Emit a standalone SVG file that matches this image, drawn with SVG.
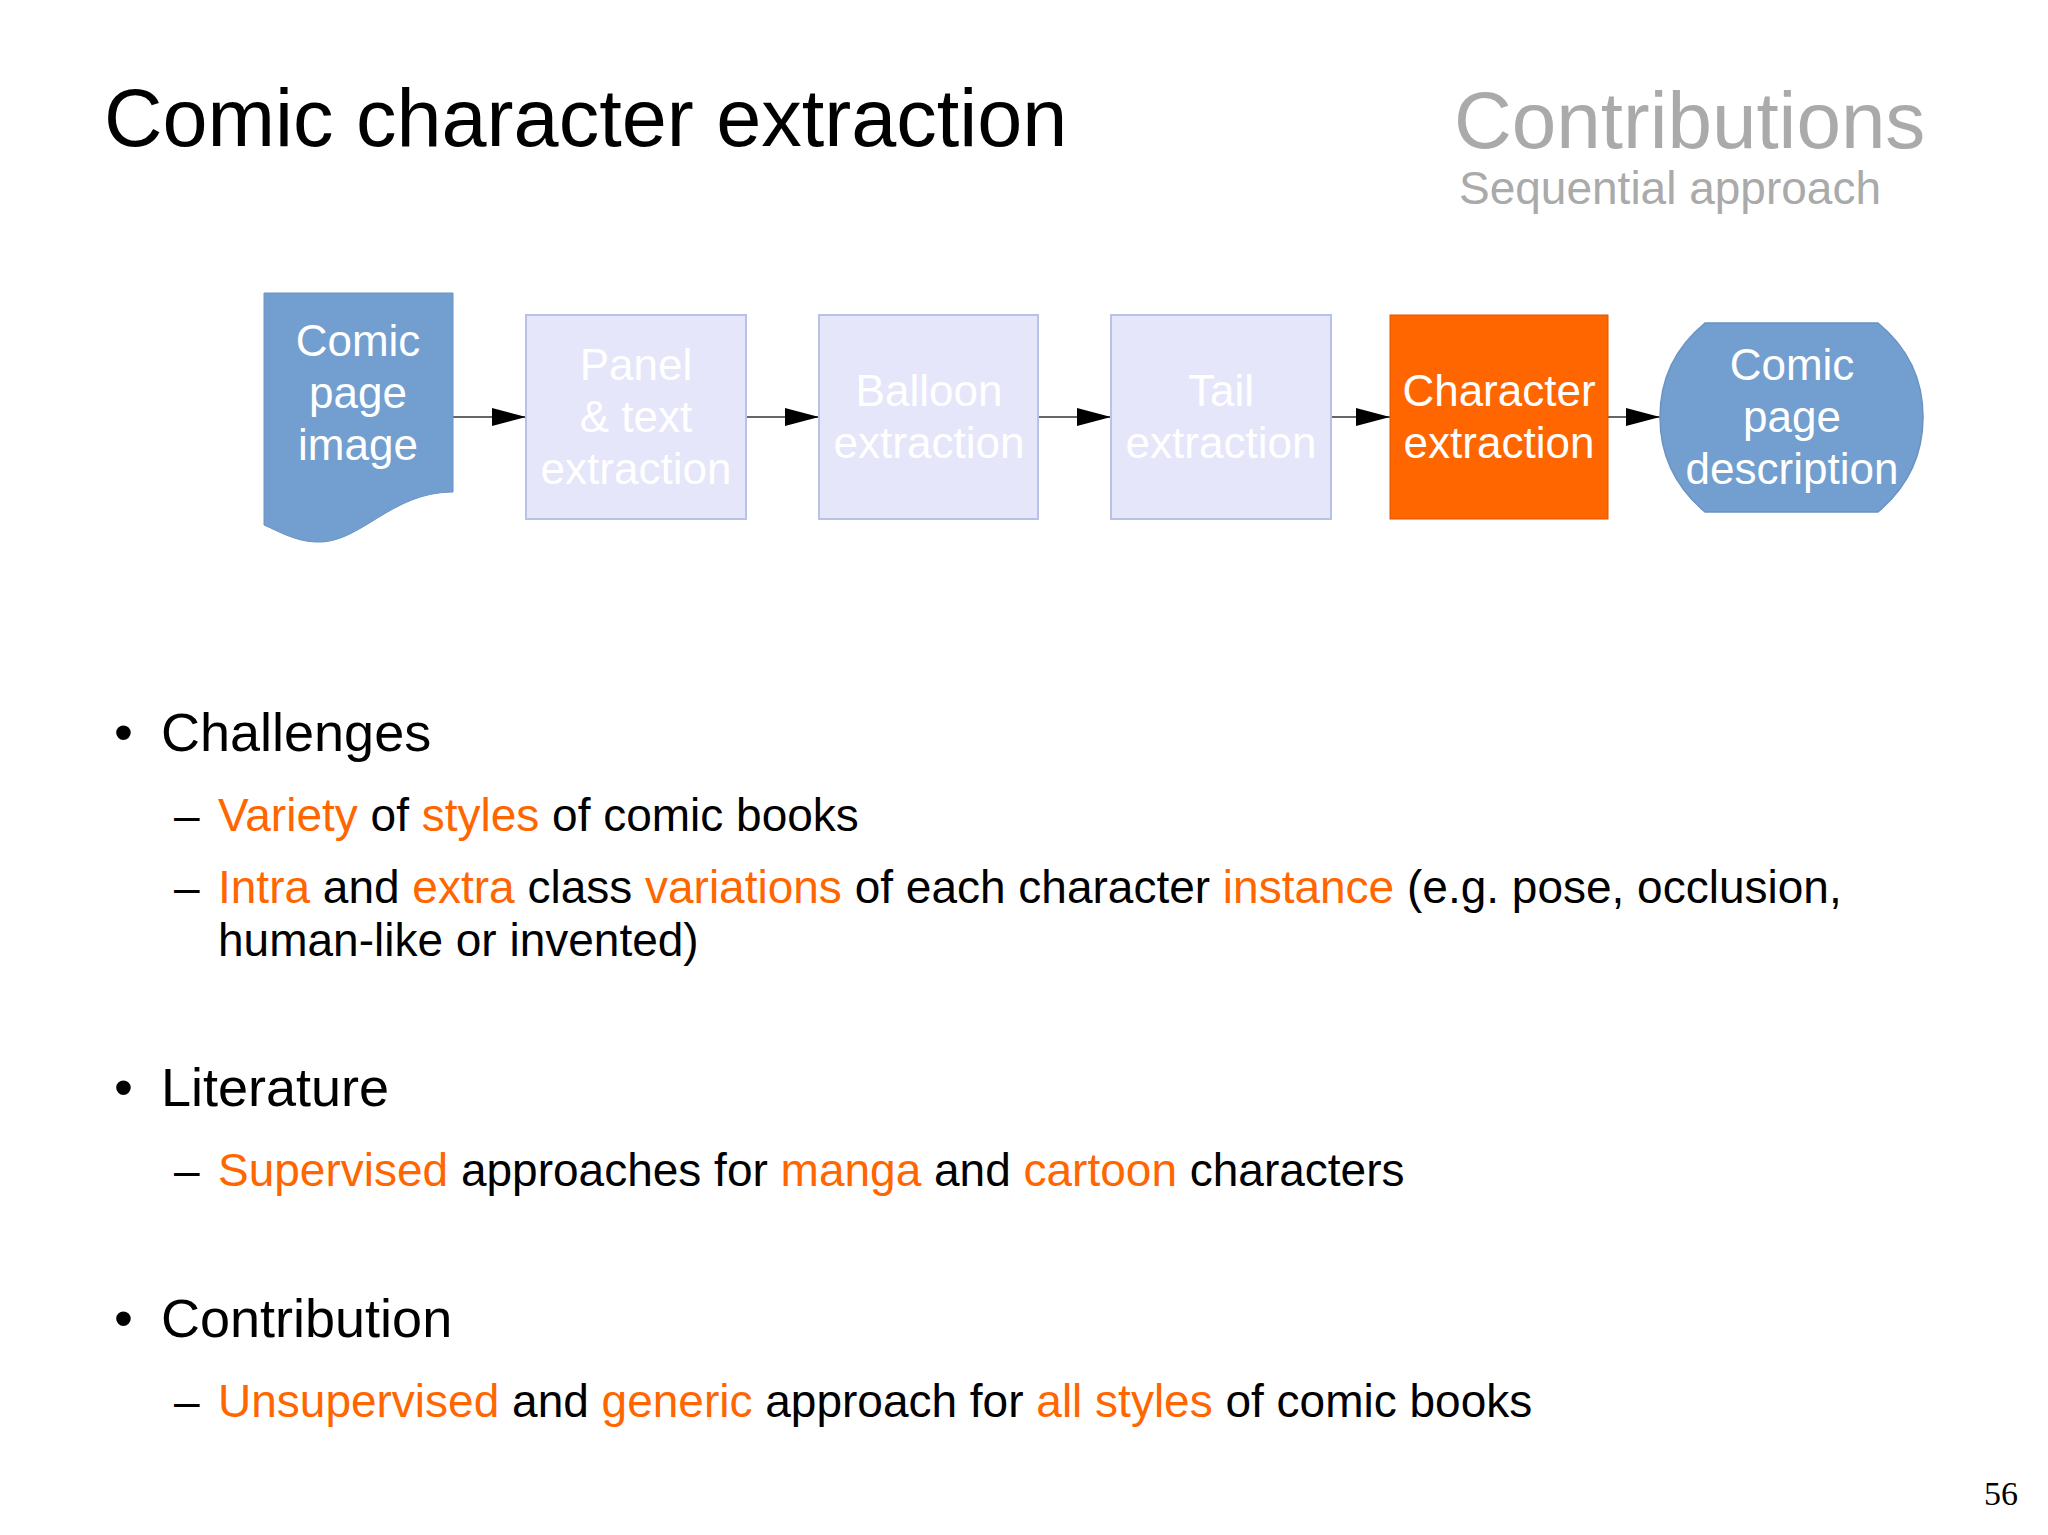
<svg xmlns="http://www.w3.org/2000/svg" width="2048" height="1535" viewBox="0 0 2048 1535">
<style>
text{font-family:"Liberation Sans",Arial,sans-serif}
.n{font-size:44px;fill:#fff;text-anchor:middle}
.f{fill:#e6e6fa;stroke:#b8c2e6;stroke-width:2}
.b{font-size:54px;fill:#000}
.s{font-size:46px;fill:#000}
.o{fill:#ff6600}
.c{stroke:#333;stroke-width:1.5;fill:none;marker-end:url(#a)}
</style>
<defs><marker id="a" markerWidth="34" markerHeight="18" refX="34" refY="9" orient="auto" markerUnits="userSpaceOnUse"><path d="M0,0 L34,9 L0,18 Z" fill="#000"/></marker></defs>
<rect width="2048" height="1535" fill="#fff"/>
<text x="104" y="146" font-size="81">Comic character extraction</text>
<text x="1454" y="148" font-size="80" fill="#aaa">Contributions</text>
<text x="1459" y="204" font-size="46" fill="#aaa">Sequential approach</text>
<g id="connectors">
<line class="c" x1="453" y1="417" x2="526" y2="417"/>
<line class="c" x1="746" y1="417" x2="819" y2="417"/>
<line class="c" x1="1038" y1="417" x2="1111" y2="417"/>
<line class="c" x1="1331" y1="417" x2="1390" y2="417"/>
<line class="c" x1="1608" y1="417" x2="1660" y2="417"/>
</g>
<g id="n1"><path d="M264,293 H453 V492 C390,492 360,545 315,542 C295,541 280,532 264,525 Z" fill="#729fcf" stroke="#6a93c4" stroke-width="1"/>
<text class="n" x="358" y="356">Comic</text><text class="n" x="358" y="408">page</text><text class="n" x="358" y="460">image</text></g>
<g id="n2"><rect class="f" x="526" y="315" width="220" height="204"/>
<text class="n" x="636" y="380">Panel</text><text class="n" x="636" y="432">&amp; text</text><text class="n" x="636" y="484">extraction</text></g>
<g id="n3"><rect class="f" x="819" y="315" width="219" height="204"/>
<text class="n" x="929" y="406">Balloon</text><text class="n" x="929" y="458">extraction</text></g>
<g id="n4"><rect class="f" x="1111" y="315" width="220" height="204"/>
<text class="n" x="1221" y="406">Tail</text><text class="n" x="1221" y="458">extraction</text></g>
<g id="n5"><rect x="1390" y="315" width="218" height="204" fill="#ff6600" stroke="#e05500" stroke-width="1"/>
<text class="n" x="1499" y="406">Character</text><text class="n" x="1499" y="458">extraction</text></g>
<g id="n6"><path d="M1705,323 H1878 Q1923,360 1923,417 Q1923,474 1878,512 H1705 Q1660,474 1660,417 Q1660,360 1705,323 Z" fill="#729fcf" stroke="#6a93c4" stroke-width="1.5"/>
<text class="n" x="1792" y="380">Comic</text><text class="n" x="1792" y="432">page</text><text class="n" x="1792" y="484">description</text></g>
<g id="text">
<text class="b" x="114" y="751">•</text><text class="b" x="161" y="751">Challenges</text>
<text class="s" x="174" y="831">–</text>
<text class="s" x="218" y="831"><tspan class="o">Variety</tspan> of <tspan class="o">styles</tspan> of comic books</text>
<text class="s" x="174" y="903">–</text>
<text class="s" x="218" y="903"><tspan class="o">Intra</tspan> and <tspan class="o">extra</tspan> class <tspan class="o">variations</tspan> of each character <tspan class="o">instance</tspan>  (e.g. pose, occlusion,</text>
<text class="s" x="218" y="956">human-like or invented)</text>
<text class="b" x="114" y="1106">•</text><text class="b" x="161" y="1106">Literature</text>
<text class="s" x="174" y="1186">–</text>
<text class="s" x="218" y="1186"><tspan class="o">Supervised</tspan> approaches for <tspan class="o">manga</tspan> and <tspan class="o">cartoon</tspan> characters</text>
<text class="b" x="114" y="1337">•</text><text class="b" x="161" y="1337">Contribution</text>
<text class="s" x="174" y="1417">–</text>
<text class="s" x="218" y="1417"><tspan class="o">Unsupervised</tspan> and <tspan class="o">generic</tspan> approach for <tspan class="o">all styles</tspan> of comic books</text>
<text x="2018" y="1505" font-size="34" text-anchor="end" style="font-family:'Liberation Serif',serif">56</text>
</g>
</svg>
